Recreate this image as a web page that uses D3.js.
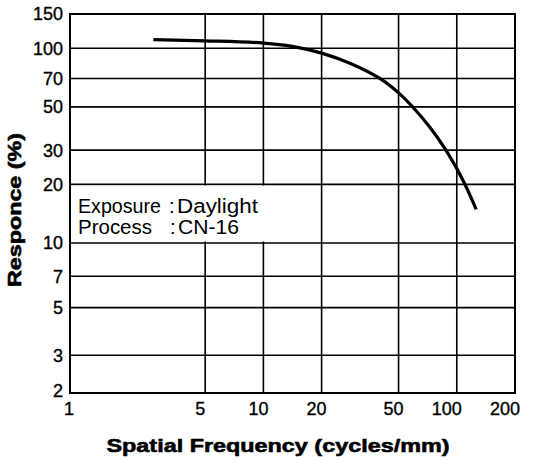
<!DOCTYPE html>
<html>
<head>
<meta charset="utf-8">
<script src="https://cdn.jsdelivr.net/npm/d3@7"></script>
<style>
  html, body { margin: 0; padding: 0; background: #fff; }
  svg { display: block; }
  text { font-family: "Liberation Sans", Arial, Helvetica, sans-serif; fill: #000; }
</style>
</head>
<body>
<svg id="chart" width="533" height="460"></svg>
<script>
// ---- data ----
const freq = [2.7, 5, 10, 14.1, 20, 28.2, 40, 50, 60.8, 72.4, 86, 100, 110, 126];
const resp = [110.7, 109.2, 106.4, 102.3, 94.4, 83.6, 70, 59, 48.5, 39.4, 31, 24.1, 20.1, 14.9];
const xTicks = [1, 5, 10, 20, 50, 100, 200];
const yTicks = [2, 3, 5, 7, 10, 20, 30, 50, 70, 100, 150];
const legendKeys = ["Exposure", "Process"];
const legendVals = ["Daylight", "CN-16"];
const xTitle = "Spatial Frequency (cycles/mm)";
const yTitle = "Responce (%)";

// ---- layout ----
const svg = d3.select("#chart");
const x = d3.scaleLog().domain([1, 200]).range([70, 515]);
// the printed log grid is slightly uneven; a two-piece log scale follows it
const y = d3.scaleLog().domain([2, 10, 150]).range([393, 243, 14]);

const g = svg.append("g");

// grid
g.selectAll("line.vg").data(xTicks.slice(1, -1)).join("line")
  .attr("x1", d => x(d)).attr("x2", d => x(d))
  .attr("y1", y(150)).attr("y2", y(2))
  .attr("stroke", "#000").attr("stroke-width", 1.6);
g.selectAll("line.hg").data(yTicks.slice(1, -1)).join("line")
  .attr("x1", x(1)).attr("x2", x(200))
  .attr("y1", d => y(d)).attr("y2", d => y(d))
  .attr("stroke", "#000").attr("stroke-width", 1.6);

// legend background (hides grid between the 20 and 10 lines)
const lx0 = x(1) + 1.5, lx1 = x(10.2), ly0 = y(20) + 1.2, ly1 = y(10) - 1.5;
g.append("rect").attr("x", lx0).attr("y", ly0)
  .attr("width", lx1 - lx0).attr("height", ly1 - ly0).attr("fill", "#fff");

// frame
g.append("rect")
  .attr("x", x(1)).attr("y", y(150))
  .attr("width", x(200) - x(1)).attr("height", y(2) - y(150))
  .attr("fill", "none").attr("stroke", "#000").attr("stroke-width", 2);

// curve
const pts = freq.map((f, i) => [f, resp[i]]);
g.append("path").datum(pts)
  .attr("d", d3.line().x(d => x(d[0])).y(d => y(d[1])).curve(d3.curveCatmullRom.alpha(0.5)))
  .attr("fill", "none").attr("stroke", "#000").attr("stroke-width", 3.2)
  .attr("stroke-linecap", "butt");

// y tick labels
g.selectAll("text.yt").data(yTicks).join("text")
  .attr("x", 63).attr("y", d => y(d)).attr("dy", d => d === 2 ? "0.2em" : "0.36em")
  .attr("text-anchor", "end").attr("font-size", 18)
  .attr("stroke", "#000").attr("stroke-width", 0.35)
  .text(d => d);

// x tick labels
g.selectAll("text.xt").data(xTicks).join("text")
  .attr("x", d => x(d)).attr("dx", d => d === 1 ? -1 : d >= 100 ? -10 : -5).attr("y", 415)
  .attr("text-anchor", "middle").attr("font-size", 18)
  .attr("stroke", "#000").attr("stroke-width", 0.35)
  .text(d => d);

// legend text
const legendRows = [213, 234];
const keyW = [83, 74], valW = [81, 61];
legendKeys.forEach((k, i) => {
  g.append("text").attr("x", 78).attr("y", legendRows[i]).attr("font-size", 20)
    .attr("textLength", keyW[i]).attr("lengthAdjust", "spacingAndGlyphs").text(k);
  g.append("text").attr("x", 169 + i).attr("y", legendRows[i]).attr("font-size", 20).text(":");
  g.append("text").attr("x", 177 + i).attr("y", legendRows[i]).attr("font-size", 20)
    .attr("textLength", valW[i]).attr("lengthAdjust", "spacingAndGlyphs").text(legendVals[i]);
});

// axis titles
svg.append("text").attr("x", 278).attr("y", 452)
  .attr("text-anchor", "middle").attr("font-size", 19).attr("font-weight", "bold")
  .attr("stroke", "#000").attr("stroke-width", 0.6)
  .attr("textLength", 343).attr("lengthAdjust", "spacingAndGlyphs")
  .text(xTitle);
svg.append("text")
  .attr("transform", "translate(21,210) rotate(-90)")
  .attr("text-anchor", "middle").attr("font-size", 18).attr("font-weight", "bold")
  .attr("stroke", "#000").attr("stroke-width", 0.6)
  .attr("textLength", 154).attr("lengthAdjust", "spacingAndGlyphs")
  .text(yTitle);
</script>
</body>
</html>
